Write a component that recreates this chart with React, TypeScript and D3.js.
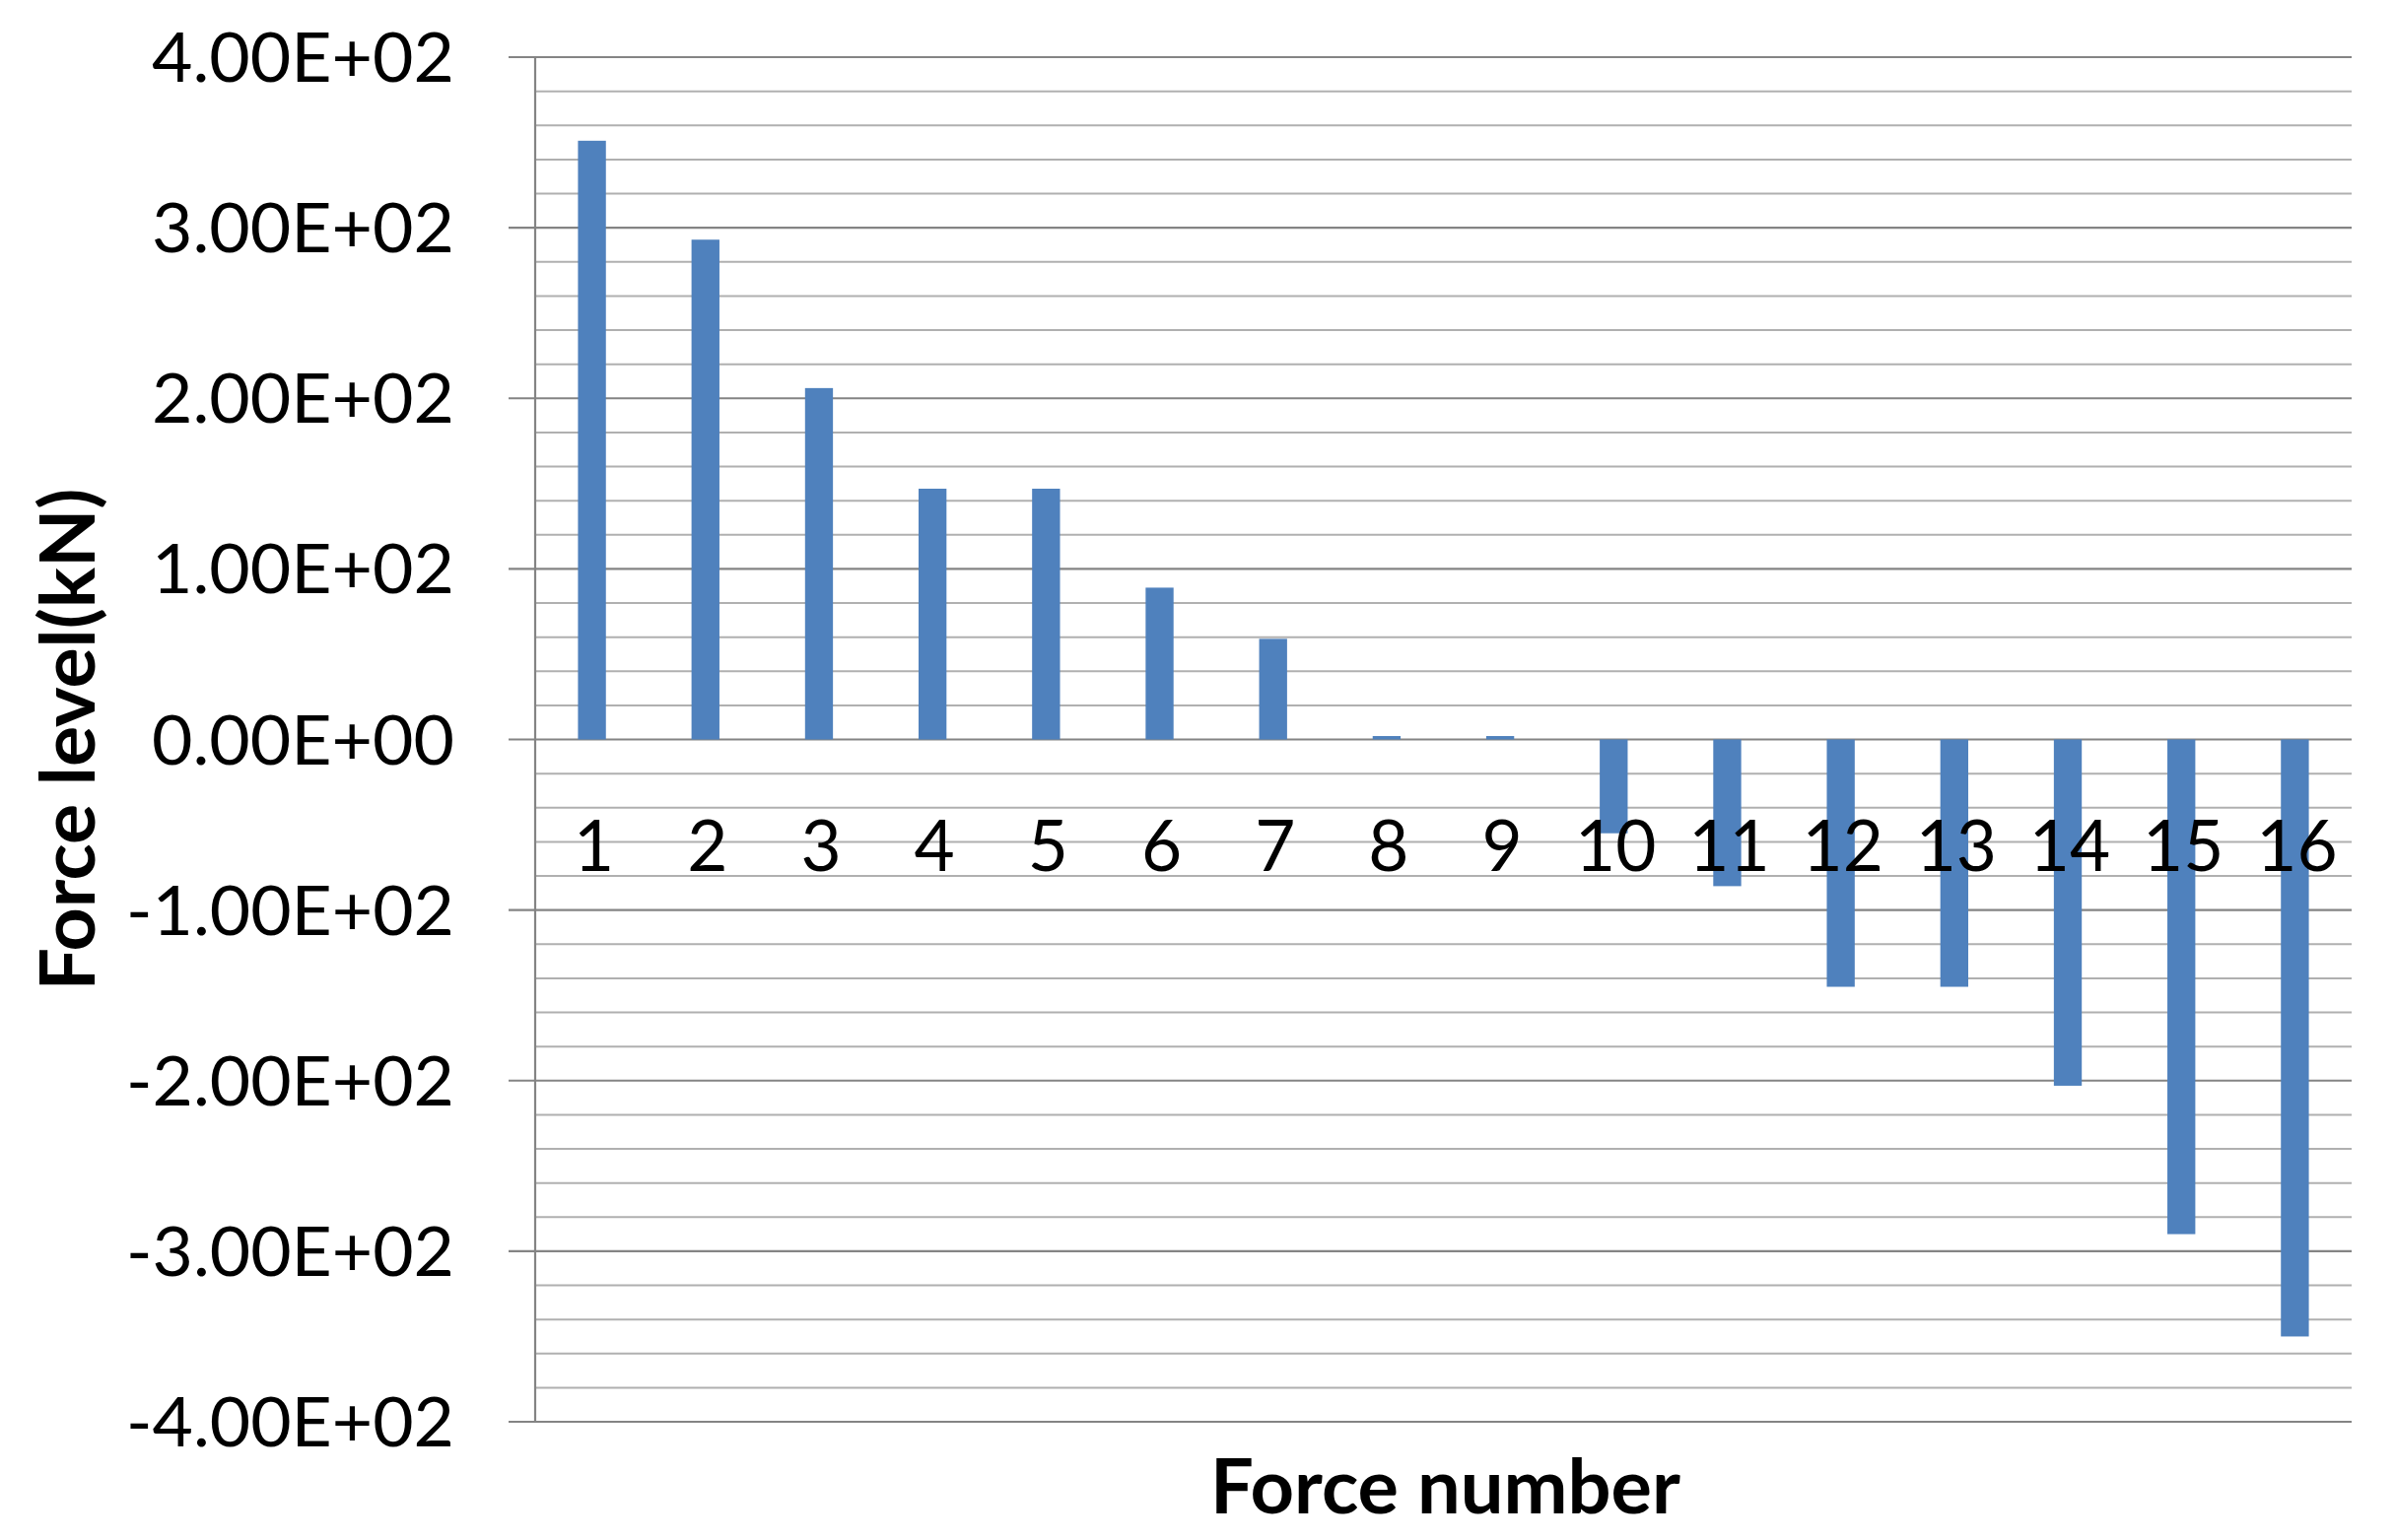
import React, { useEffect, useRef } from 'react';
import * as d3 from 'd3';

const forceNumbers = ["1", "2", "3", "4", "5", "6", "7", "8", "9", "10", "11", "12", "13", "14", "15", "16"];
const forceLevels = [351, 293, 206, 147, 147, 89, 59, 2, 2, -55, -86, -145, -145, -203, -290, -350];
const majorTicks = [400, 300, 200, 100, 0, -100, -200, -300, -400];
const majorTickLabels = ["4.00E+02", "3.00E+02", "2.00E+02", "1.00E+02", "0.00E+00", "-1.00E+02", "-2.00E+02", "-3.00E+02", "-4.00E+02"];
const minorTicks = [380, 360, 340, 320, 280, 260, 240, 220, 180, 160, 140, 120, 80, 60, 40, 20,
  -20, -40, -60, -80, -120, -140, -160, -180, -220, -240, -260, -280, -320, -340, -360, -380];

const ForceChart = () => {
  const svgRef = useRef(null);

  useEffect(() => {
    const w = 2430;
    const h = 1563;
    const left = 543;
    const right = 2386;
    const top = 58;
    const bottom = 1443;
    const font = "Lato, 'Open Sans', sans-serif";

    const svg = d3.select(svgRef.current)
      .attr("width", w)
      .attr("height", h);
    svg.selectAll("*").remove();

    const y = d3.scaleLinear().domain([-400, 400]).range([bottom, top]);
    const x = d3.scaleBand()
      .domain(forceNumbers)
      .range([left, right])
      .paddingInner(0.754)
      .paddingOuter(0.377);

    // minor gridlines first, major ones (with their ticks) over them
    svg.append("g")
      .selectAll("line")
      .data(minorTicks)
      .join("line")
      .attr("x1", left)
      .attr("x2", right)
      .attr("y1", d => y(d))
      .attr("y2", d => y(d))
      .attr("stroke", "#b0b0b0")
      .attr("stroke-width", 2);

    svg.append("g")
      .selectAll("line")
      .data(majorTicks)
      .join("line")
      .attr("x1", left - 27)
      .attr("x2", right)
      .attr("y1", d => y(d))
      .attr("y2", d => y(d))
      .attr("stroke", "#848484")
      .attr("stroke-width", 2.2);

    svg.append("g")
      .selectAll("rect")
      .data(forceLevels)
      .join("rect")
      .attr("x", (d, i) => x(forceNumbers[i]))
      .attr("width", x.bandwidth())
      .attr("y", d => y(Math.max(0, d)))
      .attr("height", d => Math.abs(y(d) - y(0)))
      .style("fill", "#4f81bd");

    svg.append("line")
      .attr("x1", left)
      .attr("x2", left)
      .attr("y1", top)
      .attr("y2", bottom)
      .attr("stroke", "#848484")
      .attr("stroke-width", 2.2);

    svg.append("g")
      .selectAll("text")
      .data(majorTicks)
      .join("text")
      .attr("x", 461)
      .attr("y", d => y(d) + 25)
      .attr("text-anchor", "end")
      .attr("textLength", (d, i) => majorTickLabels[i].startsWith("-") ? 333 : 307)
      .attr("lengthAdjust", "spacingAndGlyphs")
      .style("font-family", font)
      .style("font-size", "70px")
      .style("fill", "#000")
      .text((d, i) => majorTickLabels[i]);

    svg.append("g")
      .selectAll("text")
      .data(forceNumbers)
      .join("text")
      .attr("x", d => x(d) + x.bandwidth() / 2 + 2)
      .attr("y", y(0) + 133)
      .attr("text-anchor", "middle")
      .style("font-family", font)
      .style("font-size", "71px")
      .style("fill", "#000")
      .text(d => d);

    svg.append("text")
      .attr("transform", `translate(96,${(top + bottom) / 2}) rotate(-90)`)
      .attr("text-anchor", "middle")
      .attr("textLength", 510)
      .attr("lengthAdjust", "spacingAndGlyphs")
      .style("font-family", font)
      .style("font-weight", "bold")
      .style("font-size", "76px")
      .style("fill", "#000")
      .text("Force level(kN)");

    svg.append("text")
      .attr("x", (left + right) / 2 + 2)
      .attr("y", 1536)
      .attr("text-anchor", "middle")
      .attr("textLength", 477)
      .attr("lengthAdjust", "spacingAndGlyphs")
      .style("font-family", font)
      .style("font-weight", "bold")
      .style("font-size", "76px")
      .style("fill", "#000")
      .text("Force number");
  }, []);

  return (
    <svg ref={svgRef} style={{ position: "absolute", left: 0, top: 0, background: "#fff" }}></svg>
  );
};

export default function App() {
  return <ForceChart />;
}
